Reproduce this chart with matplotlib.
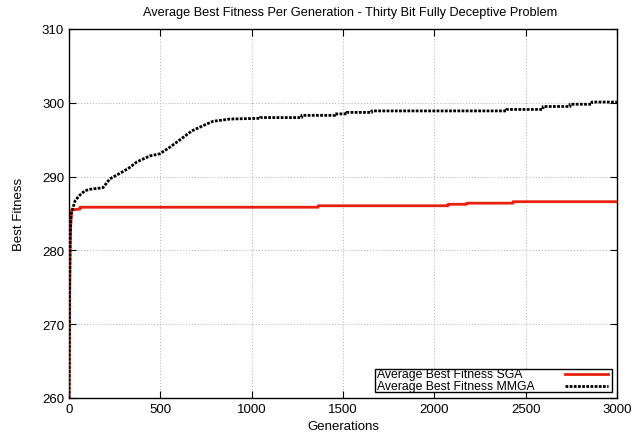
import matplotlib
matplotlib.use("Agg")
import matplotlib.pyplot as plt
from matplotlib.patches import Rectangle
from matplotlib.lines import Line2D

plt.rcParams['font.family'] = ['Liberation Sans', 'DejaVu Sans']

# SGA series
sga_gen = [0, 3, 6, 10, 15, 60, 60, 1364, 1364, 2075, 2075, 2177, 2177, 2431, 2431, 3000]
sga_fit = [260, 272, 280, 284, 285.5, 285.6, 285.85, 285.85, 286.05, 286.05, 286.25,
           286.25, 286.4, 286.4, 286.6, 286.6]

# MGA series
mga_gen = [0, 3, 6, 12, 33, 55, 88, 120, 186, 224, 290, 330, 372, 443, 498, 553, 608,
           673, 734, 789, 882, 1046, 1046, 1274, 1274, 1456, 1456, 1520, 1520, 1657, 1657,
           2396, 2396, 2595, 2595, 2743, 2743, 2862, 2862, 3000]
mga_fit = [260, 274, 282, 285.0, 286.7, 287.4, 288.1, 288.3, 288.5, 289.7, 290.6, 291.2,
           292.0, 292.8, 293.1, 294.0, 295.0, 296.2, 296.9, 297.5, 297.8, 297.9, 298.0,
           298.0, 298.3, 298.3, 298.5, 298.5, 298.7, 298.7, 298.9, 298.9, 299.1, 299.1,
           299.5, 299.5, 299.8, 299.8, 300.1, 300.1]

title = "Average Best Fitness Per Generation - Thirty Bit Fully Deceptive Problem"
xlabel = "Generations"
ylabel = "Best Fitness"
labels = ["Average Best Fitness SGA", "Average Best Fitness MMGA"]
xticks = [0, 500, 1000, 1500, 2000, 2500, 3000]
yticks = [260, 270, 280, 290, 300, 310]

RED = '#e8200c'

fig = plt.figure(figsize=(6.32, 4.39), dpi=100)
ax = fig.add_axes([69/632, 1-399/439, (617-69)/632, (399-30)/439])

ax.plot(sga_gen, sga_fit, color=RED, lw=2.0, zorder=3)
ax.plot(mga_gen, mga_fit, color='black', lw=2.0, dashes=(1.0, 0.5), zorder=4)

ax.set_xlim(0, 3000)
ax.set_ylim(260, 310)
ax.set_xticks(xticks)
ax.set_yticks(yticks)
ax.tick_params(direction='in', top=True, right=True, length=5, labelsize=9.5, width=0.8)
ax.grid(True, linestyle=(0, (1, 2)), color='#b0b0b0', lw=0.7)
for s in ax.spines.values():
    s.set_linewidth(1.0)

ax.set_title(title, fontsize=9.2, pad=10, x=0.513)
ax.set_xlabel(xlabel, fontsize=9.5, labelpad=4)
ax.set_ylabel(ylabel, fontsize=9.5, labelpad=12)

# gnuplot-style legend box: text on left, samples on right
ax.add_patch(Rectangle((0.558, 0.016), 0.433, 0.0625, transform=ax.transAxes,
                       facecolor='white', edgecolor='black', lw=1.0, zorder=5))
rows_y = [0.065, 0.0325]
styles = [dict(color=RED, lw=2.0), dict(color='black', lw=2.0, dashes=(1.0, 0.5))]
for yy, lab, st in zip(rows_y, labels, styles):
    ax.text(0.562, yy, lab, transform=ax.transAxes, fontsize=8.8, va='center',
            ha='left', zorder=6)
    ax.add_line(Line2D([0.905, 0.984], [yy, yy], transform=ax.transAxes, zorder=6, **st))

fig.savefig("out.png", dpi=100)
